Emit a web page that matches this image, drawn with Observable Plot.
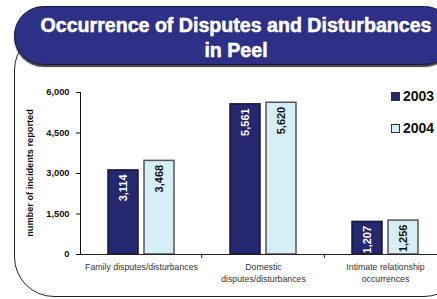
<!DOCTYPE html>
<html>
<head>
<meta charset="utf-8">
<script src="https://cdn.jsdelivr.net/npm/d3@7"></script>
<script src="https://cdn.jsdelivr.net/npm/@observablehq/plot@0.6"></script>
<style>
  html, body { margin: 0; padding: 0; background: #fff; width: 437px; height: 299px; overflow: hidden; }
  body { position: relative; font-family: "Liberation Sans", Arial, sans-serif; }
  #frame { position: absolute; left: 14px; top: 30px; width: 450px; height: 267px; border: 1px solid #222; border-radius: 40px; box-sizing: border-box; }
  #pill { position: absolute; left: 14px; top: 6px; width: 440px; height: 59px; background: #2e3087; border: 1px solid #1a1a40; border-radius: 30px; box-sizing: border-box; box-shadow: 0 2px 1px #444; color: #fff; }
  #pill div { position: absolute; left: 0; width: 442px; text-align: center; font-weight: bold; font-size: 19.6px; -webkit-text-stroke: 0.5px #fff; white-space: nowrap; }
  #ylab { position: absolute; left: 30px; top: 173px; transform: translate(-50%, -50%) rotate(-90deg); font-weight: bold; font-size: 9.2px; white-space: nowrap; color: #111; }
  #chart { position: absolute; left: 0; top: 0; }
  .leg { position: absolute; left: 391px; font-weight: bold; font-size: 14px; color: #111; white-space: nowrap; }
  .leg span { display: inline-block; width: 7px; height: 7px; border: 1px solid #333; margin-right: 3px; vertical-align: 0px; }
</style>
</head>
<body>
<div id="frame"></div>
<div id="pill"><div style="top:7px">Occurrence of Disputes and Disturbances</div><div style="top:32px">in Peel</div></div>
<div id="chart"></div>
<div id="ylab">number of incidents reported</div>
<div class="leg" style="top:88px"><span style="background:#25286e"></span>2003</div>
<div class="leg" style="top:120px"><span style="background:#d6eef5"></span>2004</div>
<script>
const categories = ["Family disputes/disturbances", "Domestic\ndisputes/disturbances", "Intimate relationship\noccurrences"];
const years = ["2003", "2004"];
const values2003 = [3114, 5561, 1207];
const values2004 = [3468, 5620, 1256];
const yTicks = [0, 1500, 3000, 4500, 6000];
const colors = ["#25286e", "#d6eef5"];

const data = categories.flatMap((c, i) => [
  {category: c, year: years[0], value: values2003[i]},
  {category: c, year: years[1], value: values2004[i]}
]);
const fmt = d3.format(",");

const chart = Plot.plot({
  width: 447,
  height: 299,
  marginTop: 92,
  marginBottom: 45,
  marginLeft: 79,
  marginRight: 0,
  style: {background: "transparent", maxWidth: "none", fontFamily: "Liberation Sans, Arial, sans-serif", fontSize: "9.3px", fontWeight: "bold", color: "#111", overflow: "visible"},
  facet: {data: data, x: "category"},
  fx: {domain: categories, padding: 0, axis: null, label: null},
  x: {domain: years, paddingInner: 0.162, paddingOuter: 0.743, axis: null},
  y: {domain: [0, 6000], ticks: yTicks, tickFormat: d => fmt(d), label: null, line: true, tickSize: 4, tickPadding: 7},
  marks: [
    Plot.barY(data, {filter: d => d.year === years[0], x: "year", y: "value", fill: colors[0], stroke: "#15163a", strokeWidth: 1.5}),
    Plot.barY(data, {filter: d => d.year === years[1], x: "year", y: "value", fill: colors[1], stroke: "#555", strokeWidth: 1.5}),
    Plot.text(data, {filter: d => d.year === years[0], x: "year", y: "value", text: d => fmt(d.value), rotate: -90, textAnchor: "end", dy: 4, fill: "white", fontSize: 11, fontWeight: "bold"}),
    Plot.text(data, {filter: d => d.year === years[1], x: "year", y: "value", text: d => fmt(d.value), rotate: -90, textAnchor: "end", dy: 4, fill: "#111", fontSize: 11, fontWeight: "bold"}),
    Plot.text(data, {filter: d => d.year === years[0], text: "category", frameAnchor: "bottom", lineAnchor: "top", dy: 6, lineHeight: 1.45, fontSize: 8.75, fontWeight: "normal", fill: "#333"}),
    Plot.ruleY([0], {stroke: "#222", strokeWidth: 1})
  ]
});
document.getElementById("chart").appendChild(chart);

// category boundary ticks on the x axis, from the plot's own scales
const fxs = chart.scale("fx");
const ys = chart.scale("y");
const band = d3.scaleBand().domain(fxs.domain).range(fxs.range).padding(0);
const yl = d3.scaleLinear().domain(ys.domain).range(ys.range);
const y0 = yl(0);
d3.select(chart).append("g").attr("stroke", "#222")
  .selectAll("line").data(fxs.domain).join("line")
  .attr("x1", d => band(d) + band.bandwidth()).attr("x2", d => band(d) + band.bandwidth())
  .attr("y1", y0).attr("y2", y0 + 4);
</script>
</body>
</html>
